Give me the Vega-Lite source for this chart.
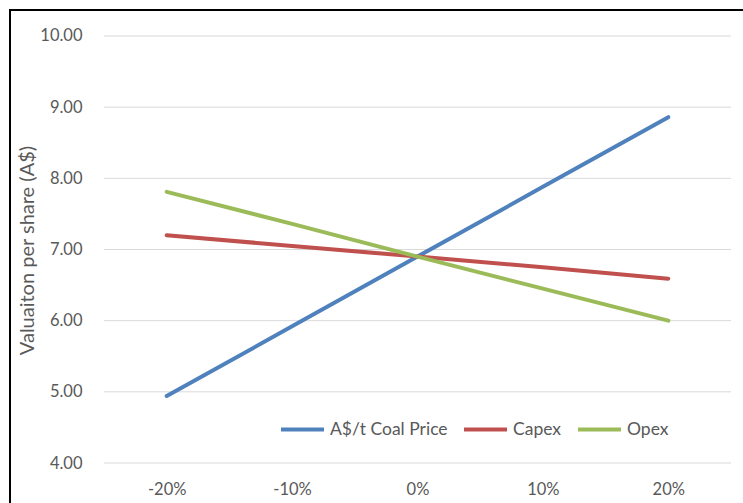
{
  "$schema": "https://vega.github.io/schema/vega-lite/v6.json",
  "width": 740,
  "height": 500,
  "autosize": {"type": "none"},
  "padding": {"left": 10, "top": 10, "right": 0, "bottom": 0},
  "background": "white",
  "config": {
    "view": {"stroke": "black", "strokeWidth": 2},
    "font": "Lato",
    "axis": {"labelFont": "Lato", "titleFont": "Lato", "labelColor": "#595959", "titleColor": "#595959"}
  },
  "datasets": {
    "series": [
      {"change": -20, "series": "A$/t Coal Price", "value": 4.94},
      {"change": -10, "series": "A$/t Coal Price", "value": 5.92},
      {"change": 0, "series": "A$/t Coal Price", "value": 6.90},
      {"change": 10, "series": "A$/t Coal Price", "value": 7.88},
      {"change": 20, "series": "A$/t Coal Price", "value": 8.86},
      {"change": -20, "series": "Capex", "value": 7.20},
      {"change": -10, "series": "Capex", "value": 7.05},
      {"change": 0, "series": "Capex", "value": 6.90},
      {"change": 10, "series": "Capex", "value": 6.75},
      {"change": 20, "series": "Capex", "value": 6.59},
      {"change": -20, "series": "Opex", "value": 7.81},
      {"change": -10, "series": "Opex", "value": 7.36},
      {"change": 0, "series": "Opex", "value": 6.90},
      {"change": 10, "series": "Opex", "value": 6.45},
      {"change": 20, "series": "Opex", "value": 6.00}
    ],
    "grid": [
      {"y": 4, "x1": -25, "x2": 25},
      {"y": 5, "x1": -25, "x2": 25},
      {"y": 6, "x1": -25, "x2": 25},
      {"y": 7, "x1": -25, "x2": 25},
      {"y": 8, "x1": -25, "x2": 25},
      {"y": 9, "x1": -25, "x2": 25},
      {"y": 10, "x1": -25, "x2": 25}
    ]
  },
  "layer": [
    {
      "data": {"name": "grid"},
      "mark": {"type": "rule", "color": "#d9d9d9", "strokeWidth": 1},
      "encoding": {
        "y": {"field": "y", "type": "quantitative"},
        "x": {"field": "x1", "type": "quantitative"},
        "x2": {"field": "x2"}
      }
    },
    {
      "data": {"name": "series"},
      "mark": {"type": "line", "strokeWidth": 4, "strokeCap": "round"},
      "encoding": {
        "x": {
          "field": "change", "type": "quantitative",
          "scale": {"domain": [-32.496, 26.515], "nice": false, "zero": false},
          "axis": {
            "title": null, "orient": "bottom", "offset": -47, "domain": false, "ticks": false, "grid": false,
            "values": [-20, -10, 0, 10, 20], "labelExpr": "datum.value + '%'",
            "labelFontSize": 16.5, "labelPadding": 18, "labelBaseline": "top"
          }
        },
        "y": {
          "field": "value", "type": "quantitative",
          "scale": {"domain": [3.3396, 10.3653], "nice": false, "zero": false},
          "axis": {
            "title": "Valuaiton per share (A$)", "orient": "left", "offset": -94, "domain": false, "ticks": false, "grid": false,
            "values": [4, 5, 6, 7, 8, 9, 10], "format": ".2f",
            "labelFontSize": 16.5, "labelPadding": 22, "titleFontSize": 20, "titleFontWeight": "normal",
            "titlePadding": 2, "titleY": 240
          }
        },
        "color": {
          "field": "series", "type": "nominal",
          "scale": {"domain": ["A$/t Coal Price", "Capex", "Opex"], "range": ["#4F81BD", "#C0504D", "#9BBB59"]},
          "legend": {
            "title": null, "orient": "none", "direction": "horizontal", "legendX": 269, "legendY": 396,
            "symbolType": "stroke", "symbolSize": 1849, "symbolStrokeWidth": 4,
            "labelFontSize": 17.5, "labelColor": "#595959", "labelFont": "Lato", "labelOffset": 4, "columnPadding": 8
          }
        }
      }
    }
  ]
}
